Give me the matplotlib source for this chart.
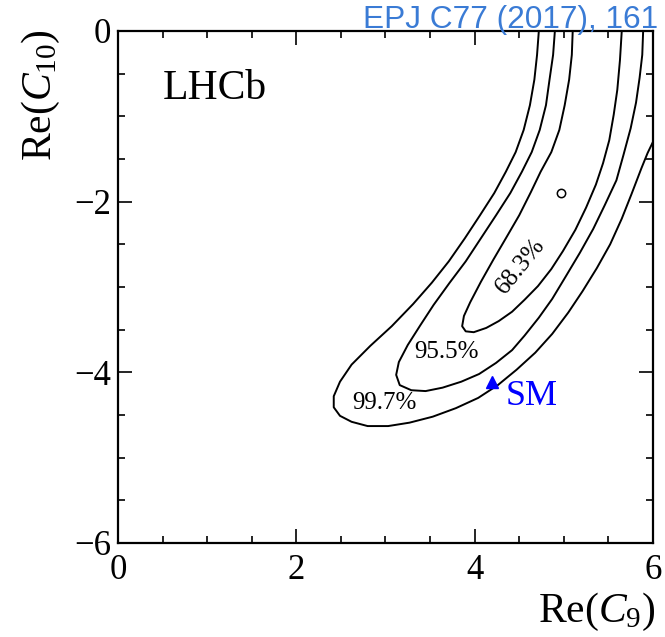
import numpy as np
import matplotlib
matplotlib.use("Agg")
import matplotlib.pyplot as plt
from matplotlib.ticker import MultipleLocator

plt.rcParams['font.family'] = ['Liberation Serif', 'DejaVu Serif']
plt.rcParams['mathtext.fontset'] = 'custom'
plt.rcParams['mathtext.rm'] = 'Liberation Serif'
plt.rcParams['mathtext.it'] = 'Liberation Serif:italic'

# contour outlines: Re(C9), Re(C10)
c997_x = [4.72, 4.70, 4.67, 4.62, 4.55, 4.46, 4.35, 4.22, 4.06, 3.89, 3.71, 3.52,
          3.31, 3.07, 2.83, 2.62, 2.49, 2.42, 2.42, 2.49, 2.62, 2.80, 3.03, 3.27,
          3.53, 3.79, 4.04, 4.26, 4.47, 4.68, 4.87, 5.05, 5.21, 5.37, 5.52, 5.65,
          5.76, 5.87, 5.94, 6.00]
c997_y = [0.00, -0.28, -0.57, -0.87, -1.16, -1.42, -1.65, -1.90, -2.16, -2.43, -2.70, -2.95,
          -3.20, -3.46, -3.69, -3.91, -4.11, -4.28, -4.41, -4.51, -4.58, -4.63, -4.63, -4.59,
          -4.52, -4.42, -4.30, -4.15, -3.97, -3.77, -3.55, -3.30, -3.05, -2.78, -2.50, -2.20,
          -1.91, -1.61, -1.43, -1.30]

c955_x = [4.90, 4.88, 4.84, 4.80, 4.73, 4.64, 4.53, 4.40, 4.24, 4.07, 3.90, 3.72,
          3.54, 3.39, 3.25, 3.15, 3.12, 3.16, 3.29, 3.45, 3.64, 3.85, 4.05, 4.24,
          4.42, 4.56, 4.72, 4.87, 5.02, 5.18, 5.33, 5.46, 5.59, 5.67, 5.75, 5.81,
          5.85, 5.88, 5.89]
c955_y = [0.00, -0.28, -0.57, -0.87, -1.16, -1.42, -1.65, -1.90, -2.16, -2.43, -2.70, -2.95,
          -3.21, -3.45, -3.68, -3.88, -4.03, -4.15, -4.21, -4.22, -4.18, -4.11, -4.02, -3.89,
          -3.74, -3.57, -3.36, -3.14, -2.88, -2.60, -2.32, -2.04, -1.75, -1.45, -1.14, -0.84,
          -0.55, -0.28, 0.00]

c683_x = [5.10, 5.09, 5.06, 5.01, 4.95, 4.86, 4.74, 4.63, 4.50, 4.35, 4.21, 4.07,
          3.95, 3.88, 3.86, 3.90, 3.99, 4.13, 4.27, 4.42, 4.56, 4.71, 4.86, 4.99,
          5.13, 5.25, 5.36, 5.44, 5.51, 5.56, 5.60, 5.63, 5.65]
c683_y = [0.00, -0.28, -0.57, -0.87, -1.16, -1.42, -1.65, -1.89, -2.16, -2.43, -2.68, -2.94,
          -3.18, -3.34, -3.46, -3.52, -3.53, -3.48, -3.40, -3.29, -3.15, -2.99, -2.79, -2.58,
          -2.33, -2.07, -1.80, -1.55, -1.28, -0.98, -0.69, -0.34, 0.00]

best_fit = (4.97, -1.90)
sm_point = (4.19, -4.11)

fig = plt.figure(figsize=(6.65, 6.37), dpi=100)
ax = fig.add_axes([0.1774, 0.1476, 0.8045, 0.8038])

for cx, cy in [(c997_x, c997_y), (c955_x, c955_y), (c683_x, c683_y)]:
    ax.plot(cx, cy, color='black', lw=1.4, solid_joinstyle='round')

ax.plot(best_fit[0], best_fit[1], marker='o', ms=6, mfc='white', mec='black', mew=1.1)
ax.plot(sm_point[0], sm_point[1], marker='^', ms=9, color='blue', mec='blue')

ax.text(2.99, -4.36, '99.7%', fontsize=18, ha='center', va='center')
ax.text(3.69, -3.76, '95.5%', fontsize=18, ha='center', va='center')
ax.text(4.51, -2.75, '68.3%', fontsize=18, ha='center', va='center', rotation=51)
ax.text(4.35, -4.28, 'SM', fontsize=26, color='blue', ha='left', va='center')
ax.text(0.50, -0.80, 'LHCb', fontsize=30, ha='left', va='baseline')

ax.set_xlim(0, 6)
ax.set_ylim(-6, 0)
ax.set_xticks([0, 2, 4, 6])
ax.set_yticks([0, -2, -4, -6])
ax.xaxis.set_minor_locator(MultipleLocator(0.5))
ax.yaxis.set_minor_locator(MultipleLocator(0.5))
ax.tick_params(which='both', direction='in', top=True, right=True, width=1.2, labelsize=25)
ax.tick_params(which='major', length=10)
ax.tick_params(which='minor', length=5)
ax.tick_params(axis='x', pad=8)
ax.tick_params(axis='y', pad=5)
for s in ax.spines.values():
    s.set_linewidth(1.6)

fig.text(41 / 665, 1 - 29 / 637, r'Re($C_{10}$)', fontsize=30, rotation=90, ha='center', va='top')
fig.text(655 / 665, 1 - 612 / 637, r'Re($C_{9}$)', fontsize=30, ha='right', va='center')
fig.text(658 / 665, 1 - 28 / 637, 'EPJ C77 (2017), 161', fontsize=22.8, color='#3a7bd5',
         family=['Liberation Sans', 'DejaVu Sans'], ha='right', va='baseline')

fig.savefig('out.png', dpi=100)
